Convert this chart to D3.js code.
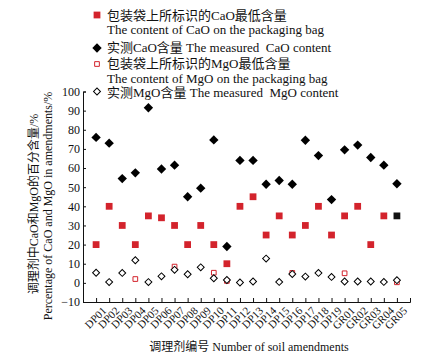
<!DOCTYPE html>
<html>
<head>
<meta charset="utf-8">
<script src="https://cdn.jsdelivr.net/npm/d3@7"></script>
<style>
  body { margin: 0; background: #fff; }
  text { font-family: "Liberation Serif", "Noto Sans CJK SC", serif; fill: #111; }
</style>
</head>
<body>
<svg id="chart" width="424" height="362"></svg>
<script>
const categories = ["DP01","DP02","DP03","DP04","DP05","DP06","DP07","DP08","DP09","DP10",
  "DP11","DP12","DP13","DP14","DP15","DP16","DP17","DP18","DP19","GR01","GR02","GR03","GR04","GR05"];
// CaO minimum on the packaging bag
const caoLabel = [20,40,30,20,35,34,30,20,30,20,10,40,45,25,35,25,30,40,25,35,40,20,35,35];
// measured CaO
const caoMeasured = [76,73,54.5,57.5,91.5,59.5,61.5,45,49.5,74.7,19,64,64,51.5,53.5,51.5,74.5,66.5,43.5,69.5,72,65.5,61.5,51.8];
// MgO minimum on the packaging bag (only where given)
const mgoLabel = [null,null,null,2,null,null,8.5,null,null,5.3,1,null,null,null,null,5.2,null,null,null,5,null,null,null,0.3];
// measured MgO
const mgoMeasured = [5.3,0.4,5.2,11.8,0.4,3.4,6.8,4.5,8.1,2.4,1.5,0.2,0.7,12.7,0.5,4.6,3.3,5.2,3.1,0.7,0.7,0.7,0.5,1.4];
const yTicks = [-10,0,10,20,30,40,50,60,70,80,90,100];

const red = "#d3232c";
const plotLeft = 83, plotRight = 410, plotTop = 91.5, plotBottom = 302;

const svg = d3.select("#chart");

const x = d3.scalePoint().domain(categories).range([plotLeft, plotRight]).padding(1);
const y = d3.scaleLinear().domain([-10, 100]).range([plotBottom, plotTop]);

// axes
const xAxis = svg.append("g")
  .attr("transform", "translate(0," + plotBottom + ")")
  .call(d3.axisBottom(x).tickSize(-4).tickSizeOuter(-4).tickFormat(""));
xAxis.selectAll("path, line").attr("stroke", "#111");

xAxis.selectAll(".tick")
  .append("text")
  .attr("transform", "translate(5,4) rotate(-45)")
  .attr("text-anchor", "end")
  .attr("dy", "0.7em")
  .attr("font-size", 11)
  .style("fill", "#111")
  .text(d => d);

const yAxis = svg.append("g")
  .attr("transform", "translate(" + plotLeft + ",0)")
  .call(d3.axisLeft(y).tickValues(yTicks).tickSize(-3).tickSizeOuter(-3).tickPadding(3));
yAxis.selectAll("path, line").attr("stroke", "#111");
yAxis.selectAll("text").attr("font-size", 12).style("fill", "#111")
  .attr("font-family", "Liberation Serif").text(d => d < 0 ? "\u2212" + Math.abs(d) : d);

// axis titles
svg.append("text")
  .attr("transform", "translate(38,204) rotate(-90)")
  .attr("text-anchor", "middle")
  .attr("font-size", 12)
  .text("调理剂中CaO和MgO的百分含量/%");
svg.append("text")
  .attr("transform", "translate(52,206) rotate(-90)")
  .attr("text-anchor", "middle")
  .attr("font-size", 12)
  .text("Percentage of CaO and MgO in amendments/%");
svg.append("text")
  .attr("x", 249)
  .attr("y", 351)
  .attr("text-anchor", "middle")
  .attr("font-size", 12)
  .text("调理剂编号 Number of soil amendments");

// markers
const squareFilled = d3.symbol(d3.symbolSquare, 46)();
const squareOpen = d3.symbol(d3.symbolSquare, 22)();
const diamondFilled = d3.symbol(d3.symbolSquare, 44)();
const diamondOpen = d3.symbol(d3.symbolSquare, 24)();

svg.append("g").selectAll("path")
  .data(categories)
  .join("path")
  .attr("d", squareFilled)
  .attr("transform", (c, i) => "translate(" + x(c) + "," + y(caoLabel[i]) + ")")
  .attr("fill", (c, i) => i === categories.length - 1 ? "#111" : red);

svg.append("g").selectAll("path")
  .data(categories)
  .join("path")
  .attr("d", diamondFilled)
  .attr("transform", (c, i) => "translate(" + x(c) + "," + y(caoMeasured[i]) + ") rotate(45)")
  .attr("fill", "#000");

svg.append("g").selectAll("path")
  .data(categories.filter((c, i) => mgoLabel[i] != null))
  .join("path")
  .attr("d", squareOpen)
  .attr("transform", c => "translate(" + x(c) + "," + y(mgoLabel[categories.indexOf(c)]) + ")")
  .attr("fill", "#fff")
  .attr("stroke", red)
  .attr("stroke-width", 1);

svg.append("g").selectAll("path")
  .data(categories)
  .join("path")
  .attr("d", diamondOpen)
  .attr("transform", (c, i) => "translate(" + x(c) + "," + y(mgoMeasured[i]) + ") rotate(45)")
  .attr("fill", "#fff")
  .attr("stroke", "#000")
  .attr("stroke-width", 1);

// legend
const legendX = 97, textX = 107;
const legend = svg.append("g");
const legendRows = [
  { y: 15, mark: squareFilled, rot: 0, fill: red, stroke: "none" },
  { y: 48, mark: diamondFilled, rot: 45, fill: "#000", stroke: "none" },
  { y: 64, mark: squareOpen, rot: 0, fill: "#fff", stroke: red },
  { y: 91.5, mark: diamondOpen, rot: 45, fill: "#fff", stroke: "#000" }
];
legend.selectAll("path")
  .data(legendRows)
  .join("path")
  .attr("d", r => r.mark)
  .attr("transform", r => "translate(" + legendX + "," + r.y + ") rotate(" + r.rot + ")")
  .attr("fill", r => r.fill)
  .attr("stroke", r => r.stroke);

const legendTexts = [
  ["包装袋上所标识的CaO最低含量", 19.5],
  ["The content of CaO on the packaging bag", 34],
  ["实测CaO含量 The measured  CaO content", 52],
  ["包装袋上所标识的MgO最低含量", 68],
  ["The content of MgO on the packaging bag", 82.5],
  ["实测MgO含量 The measured  MgO content", 96.5]
];
legend.selectAll("text")
  .data(legendTexts)
  .join("text")
  .attr("x", textX)
  .attr("y", d => d[1])
  .attr("font-size", 13)
  .style("white-space", "pre")
  .text(d => d[0]);
</script>
</body>
</html>
